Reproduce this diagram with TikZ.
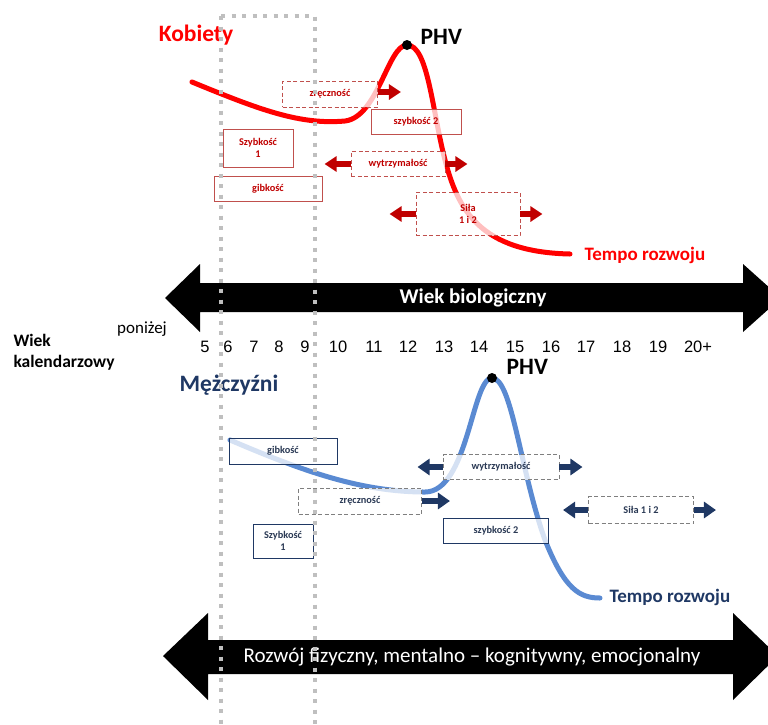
\documentclass[tikz,border=0pt]{standalone}
\usepackage{fontspec}
\setmainfont{Carlito}
\newfontfamily\numfont{Liberation Sans}
\usetikzlibrary{arrows.meta}
\definecolor{kred}{HTML}{FF0000}
\definecolor{kdark}{HTML}{C00000}
\definecolor{kbox}{HTML}{C0504D}
\definecolor{mnavy}{HTML}{1F3864}
\definecolor{mtext}{HTML}{2B3A55}
\definecolor{mcurve}{HTML}{5A8AD2}
\definecolor{mgrey}{HTML}{7F7F7F}
\definecolor{dotgrey}{HTML}{BFBFBF}

\begin{document}
\begin{tikzpicture}[
	x=1pt,y=-1pt
	,rbox/.style={draw=kbox, line width=.9pt, fill=white, fill opacity=.75, text opacity=1, text=kdark, font=\fontsize{10.3}{12.5}\selectfont\bfseries, align=center, inner sep=0pt}
	,rdash/.style={rbox, dash pattern=on 4pt off 2.5pt}
	,mbox/.style={draw=mnavy, line width=.9pt, fill=white, fill opacity=.75, text opacity=1, text=mtext, font=\fontsize{10.3}{12.5}\selectfont\bfseries, align=center, inner sep=0pt}
	,mdash/.style={mbox, draw=mgrey, dash pattern=on 4pt off 2.5pt}
	,rarr/.style={kdark, line width=6pt, -{Triangle[length=12pt,width=15pt]}}
	,marr/.style={mnavy, line width=6pt, -{Triangle[length=12pt,width=16pt]}}
	,curve/.style={line width=5pt, line cap=round}
	,peak/.style={circle, fill=black, inner sep=0pt, minimum size=10pt}
	,title/.style={font=\fontsize{23.5}{26}\selectfont\bfseries}
	,tempo/.style={font=\fontsize{19}{21}\selectfont\bfseries, anchor=west}
	,dotline/.style={dotgrey, line width=4pt, dash pattern=on 4pt off 6.5pt}
]
	\useasboundingbox (0,0) rectangle (768,724);

	\node[title, text=kred] (kob) at (196,35) {Kobiety};
	\node[title, text=mnavy] (mez) at (229,385) {Mężczyźni};

	\draw[curve, kred] (192,82) .. controls (260,110) and (300,125) .. (345,121)
		.. controls (378,117) and (388,45) .. (407,45)
		.. controls (428,45) and (432,110) .. (445,160)
		.. controls (458,210) and (480,252) .. (570,254);
	\draw[curve, mcurve] (230,440) .. controls (300,470) and (360,492) .. (425,492)
		.. controls (468,492) and (472,378) .. (492,378)
		.. controls (512,378) and (520,470) .. (545,540)
		.. controls (565,590) and (580,598) .. (600,598);

	\node[peak] (phvK) at (407,45) {};
	\node[peak] (phvM) at (492,378) {};
	\node[title, anchor=west] at ([xshift=5pt,yshift=8pt]phvK.east) {PHV};
	\node[title, anchor=west] at ([xshift=6pt,yshift=11pt]phvM.east) {PHV};
	\node[tempo, text=kred] (tempoK) at (581,255) {Tempo rozwoju};
	\node[tempo, text=mnavy] (tempoM) at (606,597) {Tempo rozwoju};

	\node[rdash, minimum width=95pt, minimum height=26pt] (zrK) at (330,94) {zręczność};
	\node[rbox, minimum width=90pt, minimum height=25pt] (sz2K) at (416,122) {szybkość 2};
	\node[rbox, minimum width=70pt, minimum height=38pt] (sz1K) at (258,148) {Szybkość\\1};
	\node[rdash, minimum width=94pt, minimum height=25pt] (wyK) at (398,164) {wytrzymałość};
	\node[rbox, minimum width=108pt, minimum height=25pt] (giK) at (268,189) {gibkość};
	\node[rdash, minimum width=104pt, minimum height=43pt] (siK) at (468,214) {Siła\\1 i 2};

	\draw[rarr] ([yshift=2pt]zrK.east) -- ([xshift=23pt,yshift=2pt]zrK.east);
	\draw[rarr] (wyK.west) -- ([xshift=-26pt]wyK.west);
	\draw[rarr] (wyK.east) -- ([xshift=22pt]wyK.east);
	\draw[rarr] (siK.west) -- ([xshift=-26pt]siK.west);
	\draw[rarr] (siK.east) -- ([xshift=22pt]siK.east);

	\node[mbox, minimum width=108pt, minimum height=26pt] (giM) at (283,451) {gibkość};
	\node[mdash, minimum width=116pt, minimum height=25pt] (wyM) at (501,467) {wytrzymałość};
	\node[mdash, minimum width=123pt, minimum height=26pt] (zrM) at (360,501) {zręczność};
	\node[mbox, minimum width=60pt, minimum height=34pt] (sz1M) at (283,541) {Szybkość\\1};
	\node[mbox, minimum width=105pt, minimum height=25pt] (sz2M) at (496,531) {szybkość 2};
	\node[mdash, minimum width=105pt, minimum height=27pt] (siM) at (641,510) {Siła 1 i 2};

	\draw[marr] (wyM.west) -- ([xshift=-25pt]wyM.west);
	\draw[marr] (wyM.east) -- ([xshift=23pt]wyM.east);
	\draw[marr] (zrM.east) -- ([xshift=28pt]zrM.east);
	\draw[marr] (siM.west) -- ([xshift=-25pt]siM.west);
	\draw[marr] (siM.east) -- ([xshift=22pt]siM.east);

	\fill (165,298) -- (200,264) -- (200,283) -- (743,283) -- (743,264) -- (781,298)
		-- (743,332) -- (743,312) -- (200,312) -- (200,332) -- cycle;
	\node[text=white, font=\fontsize{21}{23}\selectfont\bfseries] (bio) at (473,298) {Wiek biologiczny};
	\fill (163,656) -- (208,613) -- (208,640) -- (733,640) -- (733,613) -- (778,656)
		-- (733,700) -- (733,674) -- (208,674) -- (208,700) -- cycle;
	\node[text=white, font=\fontsize{21}{23}\selectfont] (roz) at (472,657) {Rozwój fizyczny, mentalno – kognitywny, emocjonalny};

	\node[font=\fontsize{17.5}{21}\selectfont\bfseries, align=left, anchor=west] (kal) at (10,352) {Wiek\\kalendarzowy};
	\node[font=\fontsize{17}{19}\selectfont] (pon) at (142,329) {poniżej};
	\foreach \n/\px in {5/205,6/228,7/254,8/279,9/305,10/338,11/374,12/408,13/444,14/479,15/515,16/551,17/586,18/622,19/658,20+/698}
		\node[font=\numfont\fontsize{16.5}{18}\selectfont] (w\n) at (\px,347) {\n};

	\draw[dotline] (221,16) -- (315,16) -- (315,730);
	\draw[dotline] (221,16) -- (221,730);
\end{tikzpicture}
\end{document}
